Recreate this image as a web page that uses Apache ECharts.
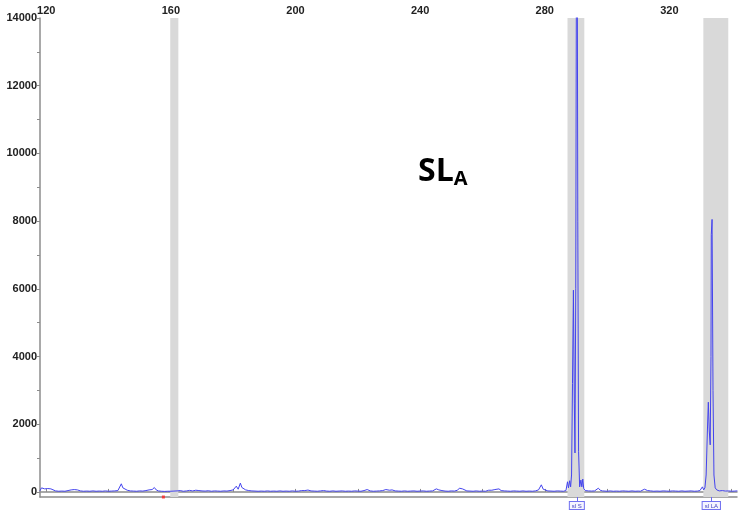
<!DOCTYPE html>
<html>
<head>
<meta charset="utf-8">
<script src="https://cdn.jsdelivr.net/npm/echarts@6/dist/echarts.min.js"></script>
<style>html,body{margin:0;padding:0;background:#fff}#c{width:744px;height:513px}</style>
</head>
<body>
<div id="c"></div>
<script>
// ---- data ----
const traceX = [
 118,118.5,119,119.5,120,120.5,121,121.5,122,123,124,125,126,127,128,128.5,129,129.5,130,131,132,133,134,135,136,137,138,139,140,141,142,143,143.6,144.1,144.6,145.2,146,147,148,149,150,151,152,153,154,154.7,155.3,156,157,158,159,160,161,162,163,164,165,166,167,168,169,170,171,172,173,174,175,176,177,178,179,180,180.5,181.0,181.6,182.3,182.8,183.4,184,185,186,187,188,189,190,191,192,193,194,195,196,197,198,199,200,201,202,202.5,203,204,205,206,207,208,209,210,211,212,213,214,215,216,217,218,219,220,221,222,222.5,223,223.5,224,225,226,227,228,229,229.6,230.2,231,232,233,234,235,236,237,238,239,240,241,242,243,244,244.6,245.2,246,247,248,249,250,251,252,252.6,253.1,253.6,254.2,255,256,257,258,259,260,261,262,262.5,263,264,264.6,265.3,266,267,268,269,270,271,272,273,274,275,276,277,278,278.9,279.5,280,281,282,283,284,285,286,286.8,287.3,287.6,288.0,288.3,288.6,288.9,289.2,289.5,289.7,289.95,290.3,290.6,290.85,291.2,291.6,291.9,292.2,292.5,293,294,295,296,296.6,297.2,297.8,298.5,299,300,301,302,303,304,305,306,307,308,309,310,310.7,311.3,312,313,314,315,316,317,318,319,320,321,322,323,324,325,326,327,328,329,329.8,330.3,330.6,331.0,331.4,331.8,332.2,332.5,332.8,333.1,333.35,333.45,333.7,334.0,334.3,334.7,335.2,336,337,338,339,340,341,341.7
];
const traceY = [
 40,120,150,90,130,100,70,90,50,30,20,25,20,40,60,45,70,40,60,30,20,25,20,30,20,25,20,30,20,25,30,40,90,240,120,90,50,30,25,20,30,25,40,60,70,130,60,30,20,15,20,20,25,30,40,20,30,45,30,50,40,30,25,35,20,30,25,20,30,25,40,60,90,170,80,260,130,90,60,40,30,25,20,25,20,30,20,25,20,30,20,25,20,30,20,25,40,60,40,55,30,25,20,30,40,25,20,30,20,25,30,20,25,20,30,25,20,40,50,70,40,30,20,25,30,40,70,80,50,60,30,25,20,30,20,25,30,20,25,30,20,25,30,50,90,60,40,25,20,30,25,50,110,160,90,70,30,25,20,30,20,25,20,50,80,50,70,60,90,40,30,25,20,30,25,20,30,20,25,20,30,60,210,80,40,30,25,20,30,25,20,40,300,120,330,150,500,3200,5960,2600,1150,6000,22000,8000,1200,150,350,150,380,100,40,30,25,30,60,110,50,30,25,20,30,20,25,20,30,25,20,30,20,25,20,60,80,40,30,20,25,20,30,25,20,30,25,20,30,20,25,30,20,25,40,40,150,60,120,500,1800,2650,1800,1390,4000,7600,8050,3000,500,120,60,30,40,25,30,20,25,30,25
];
const bands = [[159.8, 162.4], [287.3, 292.7], [330.9, 338.9]];
const xLabelTicks = [120, 160, 200, 240, 280, 320];
const xMinorTicks = [120, 140, 160, 180, 200, 220, 240, 260, 280, 300, 320, 340];
const yLabelTicks = [0, 2000, 4000, 6000, 8000, 10000, 12000, 14000];
const yMinorTicks = [0,1000,2000,3000,4000,5000,6000,7000,8000,9000,10000,11000,12000,13000,14000];
const peakMarkPos = [290.3, 333.45];
const peakMarkText = ['sl S', 'sl LA'];
const redMarker = [[157.6, -150]];

const axisGray = '#8c8c8c';
const traceData = traceX.map((x, i) => [x, traceY[i]]);

const chart = echarts.init(document.getElementById('c'), null, {renderer: 'canvas'});
chart.setOption({
  animation: false,
  backgroundColor: '#ffffff',
  title: {
    text: '{a|SL}{b|A}',
    left: 413, top: 150,
    textStyle: {
      rich: {
        a: {fontFamily: 'Open Sans', fontWeight: 'bold', fontSize: 32, color: '#000'},
        b: {fontFamily: 'Open Sans', fontWeight: 'bold', fontSize: 20, color: '#000', padding: [14, 0, 0, 0], verticalAlign: 'bottom'}
      }
    }
  },
  grid: {left: 40, right: 7, top: 18, bottom: 16},
  xAxis: [{
    type: 'value', position: 'top', min: 118, max: 341.7,
    axisLine: {show: true, lineStyle: {color: axisGray, width: 1.5}},
    axisTick: {show: true, customValues: xMinorTicks, length: 3, lineStyle: {color: axisGray}},
    axisLabel: {customValues: xLabelTicks, fontFamily: 'Liberation Sans', fontWeight: 'bold', fontSize: 11, color: '#222', margin: 2, formatter: v => String(v)},
    splitLine: {show: false}
  }, {
    type: 'value', position: 'bottom', min: 118, max: 341.7,
    axisLine: {show: true, lineStyle: {color: axisGray, width: 1.5}},
    axisTick: {show: true, customValues: peakMarkPos, length: 4, lineStyle: {color: '#6a6af0'}},
    axisLabel: {
      customValues: peakMarkPos, fontSize: 6, color: '#4040c0', margin: 5,
      borderColor: '#7070f0', borderWidth: 1, padding: [1, 2, 0, 2], backgroundColor: '#f4f4ff',
      formatter: v => { const i = peakMarkPos.findIndex(p => Math.abs(p - v) < 0.01); return i >= 0 ? peakMarkText[i] : ''; }
    },
    splitLine: {show: false}
  }],
  yAxis: {
    type: 'value', min: -150, max: 14000,
    axisLine: {show: true, lineStyle: {color: axisGray, width: 1.5}},
    axisTick: {show: true, customValues: yMinorTicks, length: 3, lineStyle: {color: axisGray}},
    axisLabel: {customValues: yLabelTicks, fontFamily: 'Liberation Sans', fontWeight: 'bold', fontSize: 11, color: '#222', margin: 3, formatter: v => String(v)},
    splitLine: {show: false}
  },
  series: [{
    type: 'line', xAxisIndex: 0, data: traceData, showSymbol: false, symbol: 'none',
    sampling: null, clip: true, smooth: false,
    lineStyle: {color: '#4444ee', width: 1, join: 'round', cap: 'round'},
    markArea: {
      silent: true,
      itemStyle: {color: '#d9d9d9'},
      data: bands.map(b => [{xAxis: b[0]}, {xAxis: b[1]}])
    },
    z: 3
  }, {
    type: 'scatter', xAxisIndex: 0, data: redMarker, symbol: 'rect', symbolSize: 3,
    itemStyle: {color: '#ff2020'}, clip: false, z: 5
  }]
});
</script>
</body>
</html>
